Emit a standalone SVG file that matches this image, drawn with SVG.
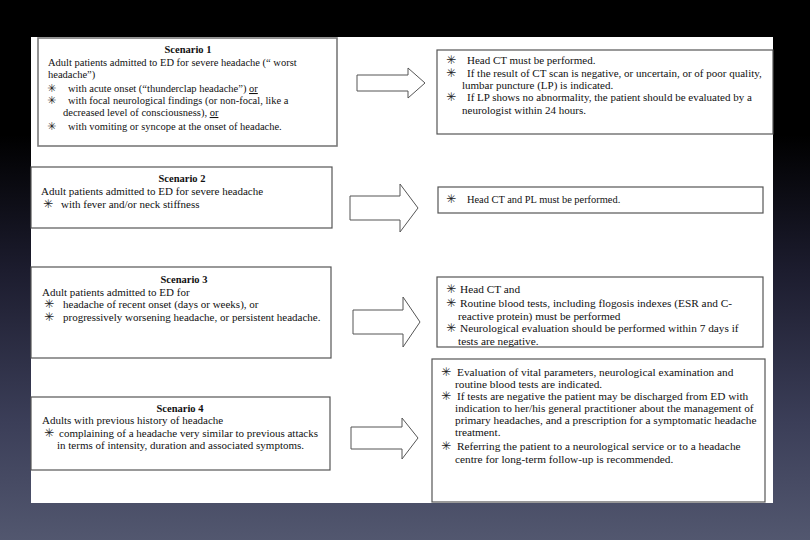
<svg xmlns="http://www.w3.org/2000/svg" width="810" height="540" viewBox="0 0 810 540">
<defs>
<linearGradient id="bg" x1="0" y1="0" x2="0" y2="1">
<stop offset="0" stop-color="#000"/>
<stop offset="0.25" stop-color="#000"/>
<stop offset="0.5" stop-color="#1c1c2e"/>
<stop offset="0.78" stop-color="#3b3e58"/>
<stop offset="1" stop-color="#52576f"/>
</linearGradient>
<style>
.t{font-family:"Liberation Serif","Times New Roman",serif;font-size:11px;fill:#111}
.s{font-size:10.5px}
.m{font-size:10.4px}
.l{font-size:11.3px}
.h{font-family:"Liberation Serif","Times New Roman",serif;font-size:10.5px;font-weight:bold;fill:#111;text-anchor:middle}
.b{font-family:"DejaVu Sans",sans-serif;font-size:12px;fill:#222}
.bs{font-size:11px}
.box{fill:#fff;stroke:#555;stroke-width:1.2}
.box1{fill:#fff;stroke:#7a7a7a;stroke-width:1.6}
.arr{fill:#fff;stroke:#555;stroke-width:1}
.u{text-decoration:underline}
</style>
</defs>
<rect x="0" y="0" width="810" height="540" fill="url(#bg)"/>
<rect x="31" y="37" width="742" height="466" fill="#fff"/>

<g id="scenario1">
<rect class="box1" x="38" y="38" width="299" height="108"/>
<text class="h" x="188" y="53">Scenario 1</text>
<text class="t s" x="48" y="66">Adult patients admitted to ED  for severe headache (“ worst</text>
<text class="t s" x="48" y="78">headache”)</text>
<text class="b bs" x="47" y="92">✳</text>
<text class="t s" x="68" y="92">with acute onset (“thunderclap headache”) <tspan class="u">or</tspan></text>
<text class="b bs" x="47" y="104">✳</text>
<text class="t s" x="68" y="104">with focal neurological findings (or non-focal, like a</text>
<text class="t s" x="63" y="116">decreased level of consciousness), <tspan class="u">or</tspan></text>
<text class="b bs" x="47" y="130">✳</text>
<text class="t s" x="68" y="130">with vomiting or syncope at the onset of headache.</text>
</g>

<g id="action1">
<rect class="box" x="437" y="50" width="336" height="84"/>
<text class="b" x="446" y="64">✳</text>
<text class="t" x="467" y="64">Head CT must be performed.</text>
<text class="b" x="446" y="77">✳</text>
<text class="t" x="467" y="77">If the result of CT scan is negative, or uncertain, or of poor quality,</text>
<text class="t" x="462" y="89">lumbar puncture (LP) is indicated.</text>
<text class="b" x="446" y="101">✳</text>
<text class="t" x="467" y="101">If LP shows no abnormality, the patient  should be evaluated by a</text>
<text class="t" x="462" y="114">neurologist within 24 hours.</text>
</g>

<g id="scenario2">
<rect class="box" x="31" y="167" width="301" height="61"/>
<text class="h" x="182" y="182">Scenario 2</text>
<text class="t" x="41" y="195">Adult patients admitted to ED for severe headache</text>
<text class="b" x="43" y="208">✳</text>
<text class="t" x="61" y="208">with  fever and/or neck stiffness</text>
</g>

<g id="action2">
<rect class="box" x="438" y="187" width="325" height="26"/>
<text class="b" x="446" y="203">✳</text>
<text class="t m" x="467" y="203">Head CT  and PL must be performed.</text>
</g>

<g id="scenario3">
<rect class="box" x="31" y="267" width="300" height="91"/>
<text class="h" x="184" y="283">Scenario 3</text>
<text class="t" x="42" y="296">Adult patients admitted to ED for</text>
<text class="b" x="44" y="308">✳</text>
<text class="t" x="63" y="308">headache of recent onset (days or weeks), or</text>
<text class="b" x="44" y="321">✳</text>
<text class="t" x="63" y="321">progressively worsening headache, or persistent headache.</text>
</g>

<g id="action3">
<rect class="box" x="437" y="277" width="326" height="70"/>
<text class="b" x="446" y="293">✳</text>
<text class="t l" x="460" y="293">Head CT and</text>
<text class="b" x="446" y="307">✳</text>
<text class="t l" x="460" y="307">Routine blood tests, including flogosis indexes (ESR and C-</text>
<text class="t l" x="458" y="320">reactive protein) must be performed</text>
<text class="b" x="446" y="332">✳</text>
<text class="t l" x="460" y="332">Neurological evaluation should be performed within 7 days if</text>
<text class="t l" x="458" y="345">tests are negative.</text>
</g>

<g id="scenario4">
<rect class="box" x="31" y="397" width="299" height="73"/>
<text class="h" x="180" y="412">Scenario 4</text>
<text class="t" x="42" y="424">Adults with previous history of headache</text>
<text class="b" x="44" y="437">✳</text>
<text class="t" x="59" y="437">complaining of a headache very similar to previous attacks</text>
<text class="t" x="57" y="449">in terms of intensity, duration and associated symptoms.</text>
</g>

<g id="action4">
<rect class="box" x="432" y="359" width="333" height="143"/>
<text class="b" x="441" y="376">✳</text>
<text class="t l" x="457" y="376">Evaluation of vital parameters, neurological examination and</text>
<text class="t l" x="455" y="388">routine blood tests are indicated.</text>
<text class="b" x="441" y="400">✳</text>
<text class="t l" x="457" y="400">If tests are negative the patient may be discharged from ED with</text>
<text class="t l" x="455" y="412">indication to her/his general practitioner about the management of</text>
<text class="t l" x="455" y="424">primary headaches, and a prescription for a symptomatic headache</text>
<text class="t l" x="455" y="436">treatment.</text>
<text class="b" x="441" y="450">✳</text>
<text class="t l" x="457" y="450">Referring the patient to a neurological service or to a headache</text>
<text class="t l" x="455" y="463">centre for long-term follow-up is recommended.</text>
</g>

<g id="connectors">
<polygon class="arr" points="357,75 408,75 408,68 425,83 408,98 408,91 357,91"/>
<polygon class="arr" points="350,196 400,196 400,184 418,208 400,232 400,220 350,220"/>
<polygon class="arr" points="353,310 403,310 403,297 420,322 403,347 403,334 353,334"/>
<polygon class="arr" points="351,427 402,427 402,418 418,438 402,459 402,449 351,449"/>
</g>
</svg>
